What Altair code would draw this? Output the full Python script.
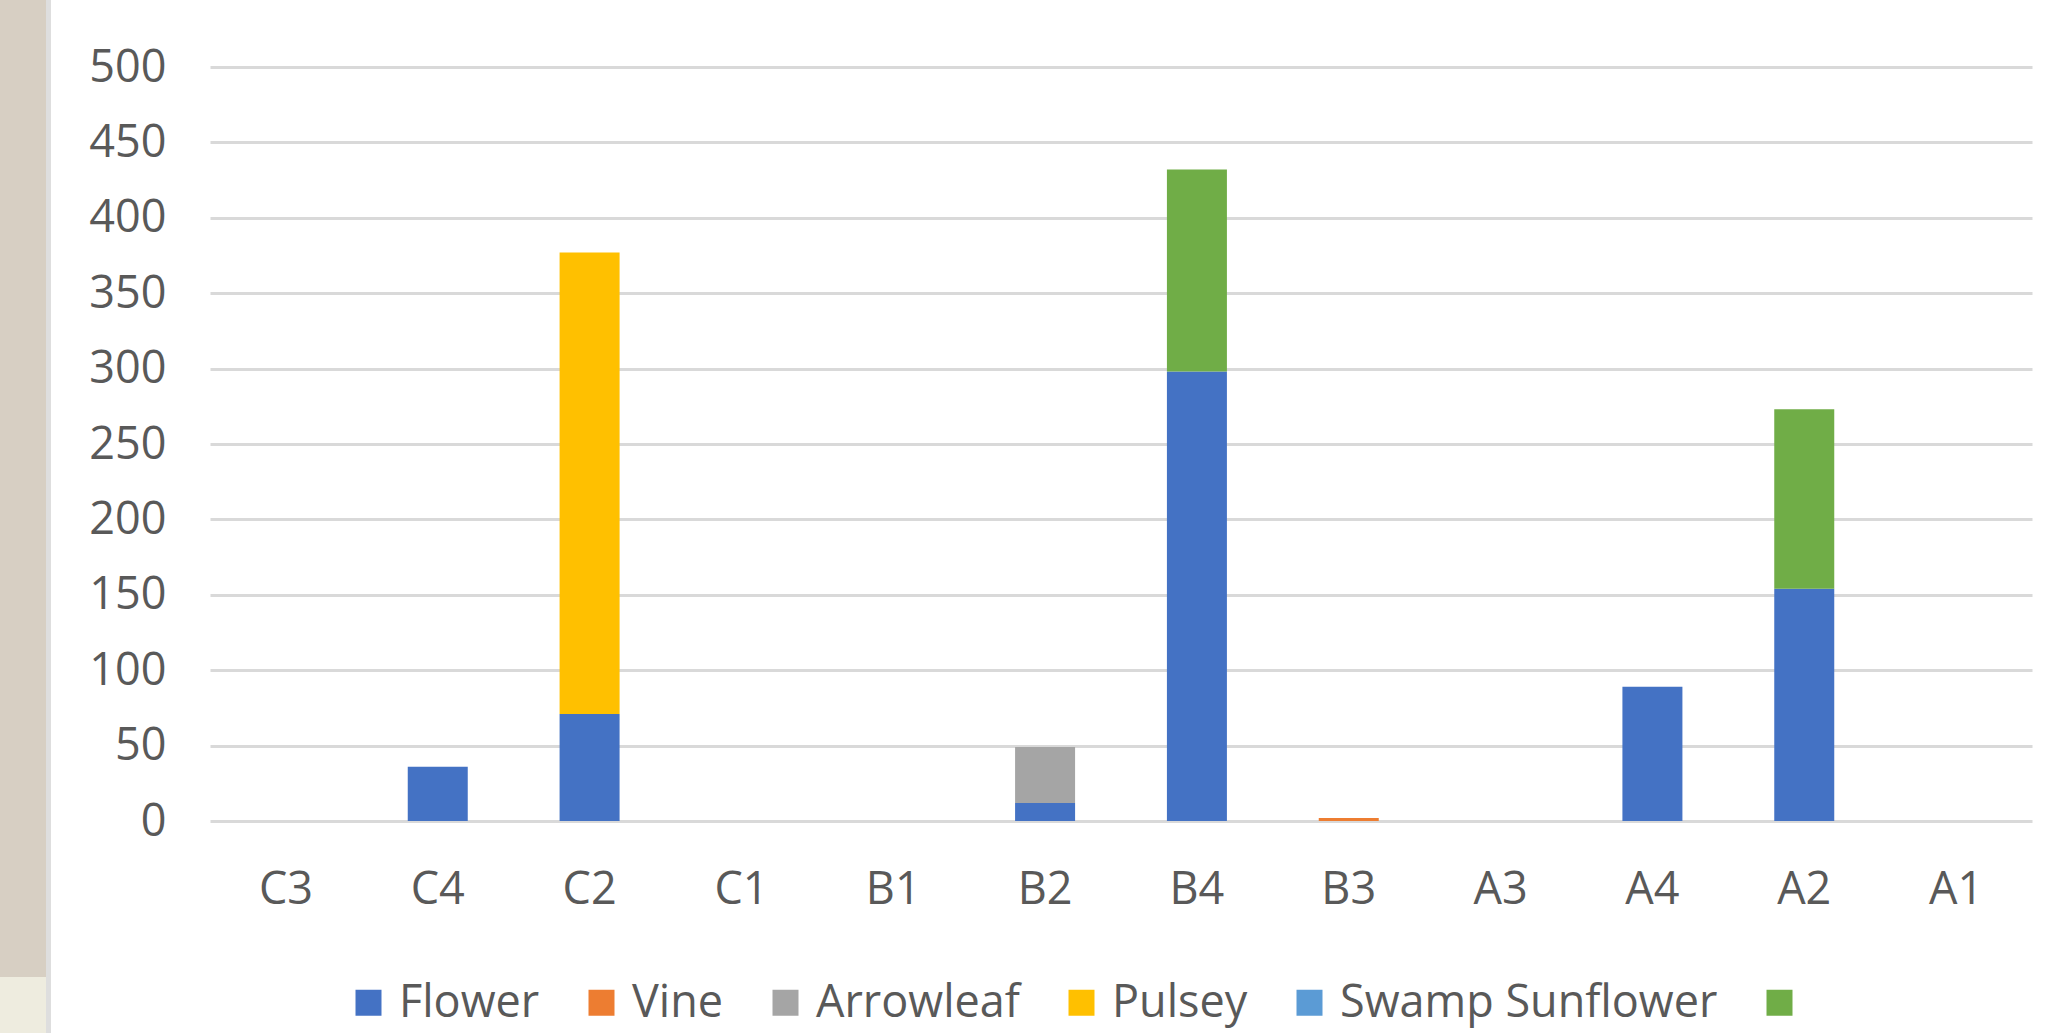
import altair as alt
import pandas as pd

categories = ["C3", "C4", "C2", "C1", "B1", "B2", "B4", "B3", "A3", "A4", "A2", "A1"]
series_names = ["Flower", "Vine", "Arrowleaf", "Pulsey", "Swamp Sunflower", ""]
series_colors = ["#4472C4", "#ED7D31", "#A5A5A5", "#FFC000", "#5B9BD5", "#70AD47"]

flower = [0, 36, 71, 0, 0, 12, 298, 0, 0, 89, 154, 0]
vine = [0, 0, 0, 0, 0, 0, 0, 2, 0, 0, 0, 0]
arrowleaf = [0, 0, 0, 0, 0, 37, 0, 0, 0, 0, 0, 0]
pulsey = [0, 0, 306, 0, 0, 0, 0, 0, 0, 0, 0, 0]
swamp_sunflower = [0, 0, 0, 0, 0, 0, 0, 0, 0, 0, 0, 0]
unnamed = [0, 0, 0, 0, 0, 0, 134, 0, 0, 0, 119, 0]

y_ticks = [0, 50, 100, 150, 200, 250, 300, 350, 400, 450, 500]

all_series = [flower, vine, arrowleaf, pulsey, swamp_sunflower, unnamed]
rows = []
for si, (name, vals) in enumerate(zip(series_names, all_series)):
    for cat, v in zip(categories, vals):
        rows.append({"cat": cat, "series": name, "value": v, "idx": si})
df = pd.DataFrame(rows)

FONT = "Open Sans"
TXT = "#595959"
FS = 45

bars = alt.Chart(df).mark_bar(size=60).encode(
    x=alt.X("cat:N", sort=categories, title=None,
            scale=alt.Scale(paddingInner=0.6, paddingOuter=0.3),
            axis=alt.Axis(labelAngle=0, labelFontSize=FS, labelColor=TXT, labelFont=FONT,
                          labelPadding=46, ticks=False, domain=False, grid=False)),
    y=alt.Y("value:Q", stack="zero", title=None,
            scale=alt.Scale(domain=[0, 500], nice=False),
            axis=alt.Axis(values=y_ticks, labelFontSize=FS, labelColor=TXT, labelFont=FONT,
                          labelPadding=44, ticks=False, domain=False,
                          grid=True, gridColor="#D9D9D9", gridWidth=3)),
    color=alt.Color("series:N",
                    scale=alt.Scale(domain=series_names, range=series_colors),
                    legend=alt.Legend(title=None, orient="none", direction="horizontal",
                                      legendX=136, legendY=913, padding=0,
                                      symbolType="square", symbolSize=676,
                                      symbolStrokeWidth=0, labelFontSize=FS,
                                      labelFont=FONT, labelColor=TXT, labelOffset=8,
                                      columnPadding=39, labelLimit=600)),
    order=alt.Order("idx:Q", sort="ascending"),
)

deco = pd.DataFrame({"k": [0]})
strip = alt.Chart(deco).mark_rect(color="#D7CFC3").encode(
    x=alt.value(-210), x2=alt.value(-164), y=alt.value(-67), y2=alt.value(910))
strip2 = alt.Chart(deco).mark_rect(color="#EEECDF").encode(
    x=alt.value(-210), x2=alt.value(-164), y=alt.value(910), y2=alt.value(966))
border = alt.Chart(deco).mark_rect(color="#DEDEDE").encode(
    x=alt.value(-164), x2=alt.value(-159), y=alt.value(-67), y2=alt.value(966))

chart = alt.layer(strip, strip2, border, bars).properties(
    width=1822, height=754,
    autosize=alt.AutoSizeParams(type="none"),
    padding={"left": 210, "top": 67, "right": 25, "bottom": 212},
    background="white",
).configure_view(stroke=None)

chart.save("out.html", embed_options={"renderer": "svg", "actions": False})
